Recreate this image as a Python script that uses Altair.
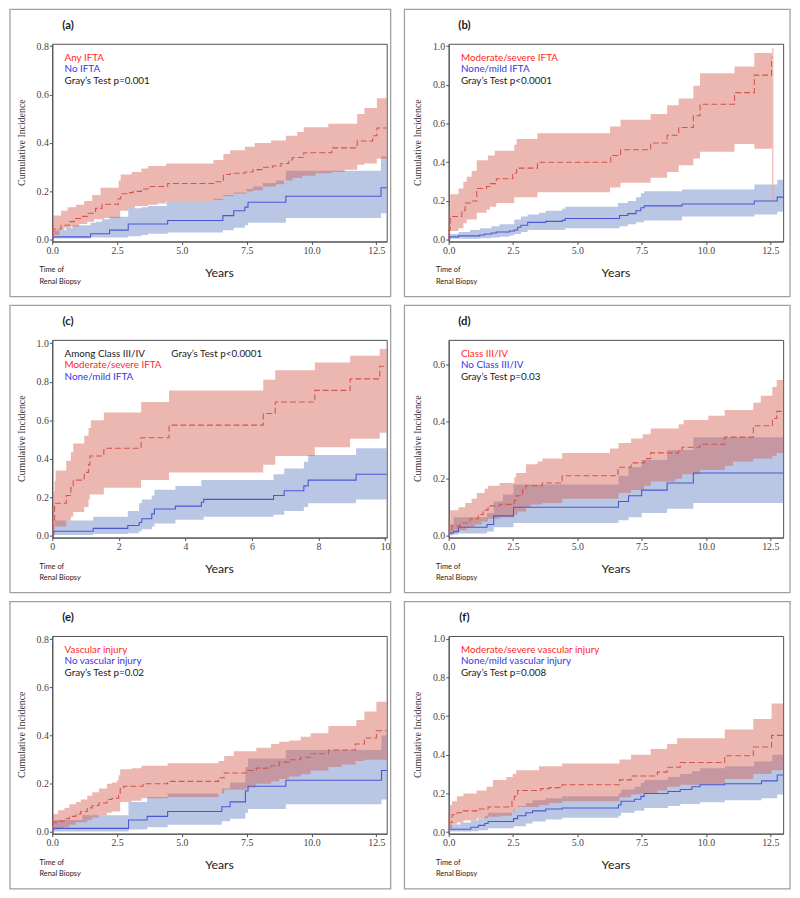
import altair as alt
import pandas as pd

# ---------------- data (time in years, cumulative incidence) ----------------
# Panel (a): Any IFTA (red) vs No IFTA (blue)
A_RED_EST = [(0, 0), (0.03, 0.045), (0.34, 0.06), (0.66, 0.075), (0.85, 0.088), (1.1, 0.097), (1.35, 0.11), (1.67, 0.13), (1.92, 0.147), (2.55, 0.17), (2.64, 0.19), (2.87, 0.195), (3.12, 0.2), (3.44, 0.21), (3.69, 0.22), (4.45, 0.233), (6.29, 0.24), (6.54, 0.245), (6.6, 0.27), (6.86, 0.275), (7.43, 0.28), (7.74, 0.29), (8.12, 0.3), (8.5, 0.305), (8.82, 0.315), (9.13, 0.33), (9.26, 0.34), (9.7, 0.36), (10.78, 0.38), (11.76, 0.408), (12.36, 0.43), (12.52, 0.462)]
A_RED_HI = [(0, 0.05), (0.02, 0.1), (0.34, 0.12), (0.59, 0.135), (0.91, 0.145), (1.23, 0.16), (1.54, 0.185), (1.86, 0.215), (2.56, 0.245), (2.64, 0.27), (3.06, 0.28), (3.44, 0.295), (3.69, 0.305), (4.39, 0.315), (6.22, 0.33), (6.6, 0.355), (6.86, 0.37), (7.43, 0.385), (7.81, 0.4), (8.44, 0.41), (9.01, 0.43), (9.45, 0.445), (9.7, 0.465), (10.65, 0.48), (11.76, 0.52), (12.04, 0.545), (12.52, 0.585)]
A_RED_LO = [(0, 0), (0.02, 0.02), (0.28, 0.04), (0.47, 0.05), (0.72, 0.055), (1.04, 0.065), (1.35, 0.075), (1.61, 0.085), (1.99, 0.09), (2.62, 0.12), (2.93, 0.13), (3.19, 0.14), (3.69, 0.145), (4.07, 0.15), (4.39, 0.16), (6.22, 0.165), (6.6, 0.18), (7.0, 0.19), (7.49, 0.2), (7.74, 0.205), (8.12, 0.22), (8.63, 0.23), (8.94, 0.245), (9.26, 0.255), (9.64, 0.265), (10.15, 0.275), (10.78, 0.28), (11.28, 0.29), (11.76, 0.31), (12.04, 0.315), (12.52, 0.335)]
A_BLUE_EST = [(0, 0), (0.03, 0.012), (1.48, 0.025), (2.21, 0.04), (2.93, 0.065), (4.45, 0.08), (6.58, 0.1), (7.0, 0.12), (7.43, 0.135), (7.55, 0.155), (9.01, 0.18), (12.68, 0.215)]
A_BLUE_HI = [(0, 0.02), (0.03, 0.04), (0.53, 0.05), (0.78, 0.06), (1.48, 0.07), (1.67, 0.075), (1.92, 0.085), (2.21, 0.095), (2.93, 0.13), (3.44, 0.135), (3.69, 0.14), (4.41, 0.16), (6.22, 0.17), (6.6, 0.185), (7.0, 0.195), (7.49, 0.21), (7.74, 0.22), (8.12, 0.235), (8.63, 0.245), (9.01, 0.285), (12.68, 0.345)]
A_BLUE_LO = [(0, 0), (0.03, 0.005), (1.48, 0.01), (2.93, 0.015), (3.44, 0.02), (3.69, 0.025), (4.45, 0.03), (6.58, 0.04), (7.0, 0.05), (7.43, 0.06), (7.55, 0.07), (9.01, 0.09), (12.68, 0.11)]

# Panel (b): Moderate/severe IFTA vs None/mild IFTA
B_RED_EST = [(0, 0), (0.01, 0.05), (0.06, 0.12), (0.51, 0.15), (0.64, 0.19), (0.89, 0.2), (1.09, 0.265), (1.47, 0.275), (1.6, 0.29), (1.85, 0.315), (2.49, 0.345), (2.64, 0.37), (3.45, 0.4), (6.3, 0.435), (6.68, 0.465), (7.85, 0.5), (8.49, 0.54), (8.94, 0.58), (9.51, 0.64), (9.77, 0.70), (11.11, 0.76), (11.88, 0.85), (12.55, 0.94)]
B_RED_HI = [(0, 0.08), (0.01, 0.17), (0.06, 0.235), (0.38, 0.265), (0.57, 0.3), (0.7, 0.325), (0.89, 0.355), (1.09, 0.41), (1.53, 0.435), (1.79, 0.46), (2.55, 0.49), (2.64, 0.52), (3.45, 0.55), (6.27, 0.585), (6.68, 0.62), (7.85, 0.65), (8.49, 0.695), (8.94, 0.73), (9.51, 0.795), (9.77, 0.86), (11.11, 0.895), (11.88, 0.965)]
B_RED_LO = [(0, 0), (0.01, 0.03), (0.06, 0.045), (0.38, 0.06), (0.57, 0.085), (0.7, 0.105), (1.09, 0.14), (1.47, 0.155), (1.6, 0.17), (1.85, 0.19), (2.55, 0.22), (3.45, 0.245), (6.27, 0.27), (6.68, 0.295), (7.85, 0.32), (8.49, 0.35), (8.94, 0.385), (9.51, 0.42), (9.77, 0.455), (11.11, 0.495), (11.88, 0.47)]
B_RED_LAST_CI = {"t": [12.6], "lo": [0.21], "hi": [0.99]}
B_BLUE_EST = [(0, 0), (0.04, 0.015), (0.38, 0.02), (1.21, 0.025), (1.4, 0.03), (1.66, 0.035), (1.85, 0.04), (2.36, 0.045), (2.55, 0.05), (2.68, 0.065), (2.81, 0.075), (3.07, 0.09), (3.77, 0.095), (4.41, 0.1), (4.53, 0.11), (6.64, 0.125), (6.96, 0.135), (7.28, 0.15), (7.47, 0.165), (7.6, 0.175), (9.07, 0.185), (11.88, 0.2), (12.77, 0.22)]
B_BLUE_HI = [(0, 0.02), (0.04, 0.03), (0.38, 0.04), (0.83, 0.05), (1.21, 0.06), (1.66, 0.07), (1.98, 0.08), (2.55, 0.105), (2.81, 0.12), (3.07, 0.13), (3.51, 0.14), (3.77, 0.15), (4.41, 0.16), (4.53, 0.17), (6.58, 0.19), (6.96, 0.2), (7.28, 0.22), (7.47, 0.24), (7.6, 0.25), (9.07, 0.26), (11.88, 0.285), (12.77, 0.31)]
B_BLUE_LO = [(0, 0), (0.06, 0.005), (1.21, 0.008), (1.66, 0.012), (1.98, 0.016), (2.36, 0.022), (2.55, 0.03), (2.81, 0.04), (3.07, 0.05), (4.53, 0.06), (6.64, 0.07), (6.96, 0.08), (7.28, 0.09), (7.6, 0.1), (9.07, 0.12), (11.88, 0.13), (12.77, 0.145)]

# Panel (c): among Class III/IV
C_RED_EST = [(0, 0), (0.02, 0.08), (0.07, 0.17), (0.42, 0.21), (0.56, 0.25), (0.63, 0.29), (0.96, 0.33), (1.09, 0.37), (1.13, 0.415), (1.55, 0.455), (2.67, 0.51), (3.51, 0.575), (6.34, 0.635), (6.7, 0.695), (7.89, 0.755), (8.95, 0.815), (9.84, 0.88)]
C_RED_HI = [(0, 0.03), (0.01, 0.08), (0.02, 0.17), (0.04, 0.23), (0.07, 0.285), (0.1, 0.34), (0.42, 0.39), (0.56, 0.435), (0.63, 0.48), (0.96, 0.52), (1.09, 0.56), (1.16, 0.6), (1.55, 0.64), (2.67, 0.695), (3.51, 0.755), (6.34, 0.81), (6.7, 0.86), (7.89, 0.9), (8.95, 0.935), (9.84, 0.97)]
C_RED_LO = [(0, 0), (0.02, 0.01), (0.07, 0.05), (0.42, 0.08), (0.56, 0.1), (0.63, 0.125), (0.96, 0.15), (1.09, 0.19), (1.13, 0.215), (1.55, 0.25), (2.67, 0.29), (3.51, 0.33), (6.34, 0.37), (6.7, 0.415), (7.89, 0.46), (8.95, 0.505), (9.84, 0.535)]
C_BLUE_EST = [(0, 0), (0.04, 0.025), (1.23, 0.04), (2.27, 0.055), (2.61, 0.07), (2.69, 0.09), (2.99, 0.115), (3.07, 0.14), (3.7, 0.155), (4.48, 0.175), (4.55, 0.19), (6.65, 0.21), (6.97, 0.235), (7.56, 0.26), (7.69, 0.29), (9.13, 0.32)]
C_BLUE_HI = [(0, 0.05), (0.07, 0.08), (1.23, 0.1), (2.27, 0.13), (2.61, 0.17), (2.69, 0.19), (2.99, 0.21), (3.07, 0.24), (3.7, 0.26), (4.48, 0.29), (6.65, 0.32), (6.97, 0.35), (7.56, 0.385), (7.69, 0.42), (9.13, 0.455)]
C_BLUE_LO = [(0, 0), (0.04, 0.005), (1.23, 0.01), (2.27, 0.015), (2.61, 0.025), (2.69, 0.035), (2.99, 0.05), (3.07, 0.065), (3.7, 0.085), (4.55, 0.1), (6.65, 0.11), (6.97, 0.13), (7.56, 0.15), (7.69, 0.17), (9.13, 0.19)]

# Panel (d): Class III/IV vs No Class III/IV
D_RED_EST = [(0, 0), (0.03, 0.02), (0.13, 0.035), (0.45, 0.045), (0.83, 0.06), (1.15, 0.075), (1.34, 0.09), (1.53, 0.105), (1.98, 0.11), (2.55, 0.125), (2.62, 0.14), (2.87, 0.16), (3.0, 0.175), (3.64, 0.185), (4.41, 0.21), (6.58, 0.24), (7.09, 0.255), (7.6, 0.27), (7.85, 0.29), (8.94, 0.3), (9.07, 0.31), (9.77, 0.32), (10.73, 0.345), (11.84, 0.385), (12.58, 0.41), (12.75, 0.435)]
D_RED_HI = [(0, 0.06), (0.06, 0.09), (0.38, 0.1), (0.64, 0.115), (0.89, 0.13), (1.09, 0.15), (1.4, 0.165), (1.53, 0.175), (1.98, 0.185), (2.55, 0.205), (2.62, 0.22), (3.0, 0.25), (3.45, 0.26), (3.64, 0.27), (4.41, 0.29), (6.27, 0.305), (6.6, 0.325), (7.09, 0.34), (7.54, 0.355), (7.85, 0.375), (8.94, 0.39), (9.13, 0.405), (10.09, 0.42), (10.73, 0.44), (11.84, 0.465), (12.13, 0.49), (12.58, 0.52), (12.75, 0.545)]
D_RED_LO = [(0, 0), (0.03, 0.005), (0.13, 0.015), (0.38, 0.02), (0.7, 0.03), (1.02, 0.04), (1.28, 0.05), (1.53, 0.06), (1.98, 0.065), (2.55, 0.075), (2.68, 0.085), (3.0, 0.1), (3.19, 0.11), (3.64, 0.115), (4.41, 0.13), (6.6, 0.15), (7.09, 0.16), (7.6, 0.175), (7.85, 0.19), (8.81, 0.2), (9.07, 0.215), (9.77, 0.23), (10.73, 0.245), (11.05, 0.26), (11.84, 0.27), (12.58, 0.28), (12.75, 0.29)]
D_BLUE_EST = [(0, 0), (0.03, 0.01), (0.19, 0.015), (0.38, 0.03), (1.49, 0.04), (1.75, 0.07), (2.52, 0.1), (6.6, 0.12), (6.99, 0.14), (7.5, 0.16), (8.49, 0.185), (9.51, 0.22)]
D_BLUE_HI = [(0, 0.02), (0.03, 0.04), (0.19, 0.065), (1.49, 0.08), (1.75, 0.12), (2.11, 0.145), (2.52, 0.18), (6.6, 0.21), (6.99, 0.24), (7.5, 0.265), (8.49, 0.3), (9.51, 0.345)]
D_BLUE_LO = [(0, 0), (0.03, 0.002), (0.19, 0.005), (0.38, 0.008), (1.49, 0.015), (1.75, 0.03), (2.52, 0.045), (6.6, 0.055), (6.99, 0.065), (7.5, 0.08), (8.49, 0.095), (9.51, 0.115)]

# Panel (e): Vascular injury vs No vascular injury
E_RED_EST = [(0, 0), (0.03, 0.04), (0.22, 0.045), (0.47, 0.055), (0.66, 0.065), (0.91, 0.075), (1.1, 0.085), (1.35, 0.1), (1.54, 0.11), (1.8, 0.12), (2.11, 0.135), (2.3, 0.14), (2.56, 0.155), (2.62, 0.18), (2.75, 0.19), (3.5, 0.2), (4.45, 0.21), (6.41, 0.225), (6.63, 0.245), (7.49, 0.255), (7.87, 0.265), (8.44, 0.275), (8.75, 0.29), (9.13, 0.3), (9.58, 0.31), (9.96, 0.325), (10.65, 0.34), (11.69, 0.365), (12.04, 0.39), (12.5, 0.42)]
E_RED_HI = [(0, 0.05), (0.03, 0.075), (0.22, 0.09), (0.47, 0.1), (0.66, 0.115), (0.91, 0.125), (1.1, 0.135), (1.35, 0.15), (1.54, 0.165), (1.8, 0.18), (2.11, 0.2), (2.3, 0.205), (2.49, 0.215), (2.56, 0.235), (2.62, 0.26), (3.06, 0.265), (3.44, 0.275), (4.45, 0.285), (6.41, 0.295), (6.63, 0.315), (7.0, 0.335), (7.87, 0.35), (8.44, 0.365), (8.75, 0.375), (9.13, 0.38), (9.58, 0.395), (9.96, 0.41), (10.65, 0.44), (11.73, 0.465), (12.04, 0.5), (12.5, 0.54)]
E_RED_LO = [(0, 0), (0.03, 0.01), (0.22, 0.015), (0.47, 0.02), (0.66, 0.03), (0.91, 0.04), (1.35, 0.05), (1.54, 0.06), (1.8, 0.07), (2.11, 0.08), (2.3, 0.085), (2.62, 0.125), (3.06, 0.13), (3.44, 0.14), (4.45, 0.145), (6.41, 0.16), (6.63, 0.175), (7.49, 0.185), (7.87, 0.2), (8.44, 0.21), (8.75, 0.22), (9.13, 0.23), (9.58, 0.24), (9.96, 0.255), (10.65, 0.27), (11.16, 0.28), (11.69, 0.295), (12.04, 0.3)]
E_BLUE_EST = [(0, 0), (0.03, 0.015), (2.94, 0.05), (3.66, 0.065), (4.45, 0.085), (6.54, 0.105), (6.86, 0.125), (7.45, 0.17), (7.55, 0.19), (9.01, 0.215), (12.7, 0.255)]
E_BLUE_HI = [(0, 0.03), (0.03, 0.05), (1.16, 0.07), (2.94, 0.125), (3.66, 0.145), (4.45, 0.16), (6.54, 0.18), (6.86, 0.205), (7.45, 0.27), (7.55, 0.305), (9.01, 0.34), (12.7, 0.4)]
E_BLUE_LO = [(0, 0), (0.03, 0.002), (2.94, 0.01), (3.66, 0.02), (4.45, 0.03), (6.54, 0.045), (6.86, 0.055), (7.45, 0.08), (7.55, 0.095), (9.01, 0.115), (12.7, 0.135)]

# Panel (f): Moderate/severe vs None/mild vascular injury
F_RED_EST = [(0, 0), (0.03, 0.05), (0.13, 0.09), (0.32, 0.1), (0.57, 0.11), (1.09, 0.12), (1.53, 0.13), (2.46, 0.16), (2.55, 0.185), (2.68, 0.215), (3.58, 0.225), (3.9, 0.23), (4.41, 0.245), (6.64, 0.27), (7.09, 0.29), (8.11, 0.31), (8.49, 0.335), (9.0, 0.36), (10.73, 0.395), (11.84, 0.44), (12.55, 0.5)]
F_RED_HI = [(0, 0.08), (0.03, 0.14), (0.13, 0.16), (0.32, 0.185), (0.57, 0.2), (1.09, 0.215), (1.47, 0.235), (1.72, 0.27), (2.24, 0.285), (2.49, 0.3), (2.62, 0.32), (3.51, 0.34), (4.41, 0.355), (6.64, 0.375), (7.09, 0.4), (7.85, 0.43), (8.49, 0.455), (8.88, 0.485), (10.73, 0.53), (11.84, 0.585), (12.55, 0.665)]
F_RED_LO = [(0, 0), (0.03, 0.02), (0.13, 0.04), (0.32, 0.05), (0.57, 0.06), (1.09, 0.07), (1.53, 0.08), (1.98, 0.085), (2.46, 0.1), (2.55, 0.12), (2.68, 0.13), (3.51, 0.14), (3.9, 0.15), (4.41, 0.16), (6.64, 0.18), (7.09, 0.195), (7.47, 0.2), (8.11, 0.215), (8.49, 0.235), (9.0, 0.245), (10.73, 0.275), (11.84, 0.3), (12.55, 0.32)]
F_BLUE_EST = [(0, 0), (0.03, 0.015), (0.86, 0.025), (1.15, 0.035), (1.4, 0.045), (1.53, 0.055), (2.52, 0.07), (2.68, 0.085), (3.0, 0.1), (3.26, 0.11), (3.77, 0.12), (4.41, 0.125), (6.6, 0.14), (6.7, 0.16), (7.22, 0.17), (7.47, 0.185), (7.6, 0.2), (8.52, 0.21), (9.0, 0.22), (9.45, 0.235), (9.77, 0.245), (10.73, 0.25), (12.16, 0.265), (12.77, 0.295)]
F_BLUE_HI = [(0, 0.03), (0.03, 0.04), (0.45, 0.05), (0.86, 0.06), (1.15, 0.07), (1.4, 0.085), (1.53, 0.1), (2.52, 0.12), (2.68, 0.135), (3.0, 0.15), (3.26, 0.165), (3.77, 0.175), (4.41, 0.185), (6.6, 0.2), (6.7, 0.22), (7.22, 0.235), (7.47, 0.255), (7.6, 0.27), (8.52, 0.285), (9.0, 0.3), (9.45, 0.315), (9.77, 0.33), (10.73, 0.34), (11.88, 0.365), (12.58, 0.4)]
F_BLUE_LO = [(0, 0), (0.03, 0.003), (0.86, 0.005), (1.15, 0.01), (1.53, 0.02), (2.52, 0.03), (3.0, 0.045), (3.26, 0.055), (3.77, 0.065), (4.41, 0.075), (6.6, 0.085), (6.7, 0.1), (7.22, 0.11), (7.6, 0.125), (8.52, 0.135), (9.0, 0.145), (9.77, 0.155), (10.73, 0.165), (12.16, 0.175), (12.77, 0.195)]

# Text
PANEL_LABELS = ["(a)", "(b)", "(c)", "(d)", "(e)", "(f)"]
LEGENDS = {
    "a": [("Any IFTA", "red"), ("No IFTA", "blue"), ("Gray\u2019s Test p=0.001", "black")],
    "b": [("Moderate/severe IFTA", "red"), ("None/mild IFTA", "blue"), ("Gray\u2019s Test p<0.0001", "black")],
    "c": [("Among Class III/IV", "black"), ("Moderate/severe IFTA", "red"), ("None/mild IFTA", "blue")],
    "d": [("Class III/IV", "red"), ("No Class III/IV", "blue"), ("Gray\u2019s Test p=0.03", "black")],
    "e": [("Vascular injury", "red"), ("No vascular injury", "blue"), ("Gray\u2019s Test p=0.02", "black")],
    "f": [("Moderate/severe vascular injury", "red"), ("None/mild vascular injury", "blue"), ("Gray\u2019s Test p=0.008", "black")],
}
C_EXTRA_TEXT = "Gray\u2019s Test p<0.0001"
X_TITLE = "Years"
Y_TITLE = "Cumulative Incidence"
ORIGIN_1 = "Time of"
ORIGIN_2 = "Renal Biopsy"

X_TICKS_13 = [0, 2.5, 5, 7.5, 10, 12.5]
X_TICKS_10 = [0, 2, 4, 6, 8, 10]
Y_TICKS_08 = [0, 0.2, 0.4, 0.6, 0.8]
Y_TICKS_10 = [0, 0.2, 0.4, 0.6, 0.8, 1.0]
Y_TICKS_06 = [0, 0.2, 0.4, 0.6]

# ---------------- styling ----------------
RED_FILL = "#D5604F"
BLUE_FILL = "#748DC9"
RED_LINE = "#D4544F"
BLUE_LINE = "#4B58D6"
TEXT_COL = {"red": "#FF1F1F", "blue": "#3535E8", "black": "#1A1A1A"}
W, H = 340, 201
SANS = "Lato"
SERIF = "Liberation Serif"
ONE = pd.DataFrame({"k": [0]})
BOX_Y = (-35, 257)


def value_at(pts, t):
    v = pts[0][1]
    for pt, pv in pts:
        if pt <= t + 1e-9:
            v = pv
        else:
            break
    return v


def line_df(pts, end):
    rows = [{"t": t, "v": v} for t, v in pts if t < end]
    rows.append({"t": end, "v": value_at(pts, end)})
    return pd.DataFrame(rows)


def band_df(lo, hi, end):
    times = sorted(set([t for t, _ in lo] + [t for t, _ in hi]))
    times = [t for t in times if t < end] + [end]
    return pd.DataFrame([{"t": t, "lo": value_at(lo, t), "hi": value_at(hi, t)} for t in times])


def txt(s, x, y, color="#1A1A1A", size=9.5, font=SANS, align="left", weight="normal", angle=0):
    kw = dict(text=s, align=align, baseline="middle", font=font, fontSize=size,
              color=color, fontWeight=weight)
    if angle:
        kw["angle"] = angle
    return alt.Chart(ONE).mark_text(**kw).encode(x=alt.value(x), y=alt.value(y))


def panel(idx, key, red, blue, red_end, blue_end, xdom, ydom, xticks, yticks, xfmt,
          box_x, extra=None):
    xs = alt.Scale(domain=xdom, nice=False, zero=False)
    ys = alt.Scale(domain=ydom, nice=False, zero=False)
    xaxis = alt.Axis(values=xticks, format=xfmt, title=None, grid=False, labelFlush=False)
    yaxis = alt.Axis(values=yticks, format=".1f", title=None, grid=False)
    X = alt.X("t:Q", scale=xs, axis=xaxis)

    def Y(f):
        return alt.Y(f + ":Q", scale=ys, axis=yaxis)

    r_est, r_lo, r_hi = red
    b_est, b_lo, b_hi = blue
    layers = [
        alt.Chart(band_df(b_lo, b_hi, blue_end)).mark_area(
            interpolate="step-after", color=BLUE_FILL, opacity=0.5).encode(
            x=X, y=Y("lo"), y2=alt.Y2("hi:Q")),
        alt.Chart(band_df(r_lo, r_hi, red_end)).mark_area(
            interpolate="step-after", color=RED_FILL, opacity=0.45).encode(
            x=X, y=Y("lo"), y2=alt.Y2("hi:Q")),
    ]
    if extra is not None:
        layers.append(alt.Chart(pd.DataFrame(extra)).mark_rule(
            color="#EDA79C", strokeWidth=1).encode(x=X, y=Y("lo"), y2=alt.Y2("hi:Q")))
    layers += [
        alt.Chart(line_df(b_est, blue_end)).mark_line(
            interpolate="step-after", color=BLUE_LINE, strokeWidth=1.1).encode(x=X, y=Y("v")),
        alt.Chart(line_df(r_est, red_end)).mark_line(
            interpolate="step-after", color=RED_LINE, strokeWidth=1.1,
            strokeDash=[6, 3]).encode(x=X, y=Y("v")),
    ]
    for i, (s, c) in enumerate(LEGENDS[key]):
        layers.append(txt(s, 12.5, 14 + 11.7 * i, color=TEXT_COL[c], size=10))
    if key == "c":
        layers.append(txt(C_EXTRA_TEXT, 121, 14, color=TEXT_COL["black"], size=10))
    layers += [
        txt(PANEL_LABELS[idx], 16, -18.5, size=11.5, weight="bold", align="center"),
        txt(Y_TITLE, -31, H / 2, color="#333333", size=10, font=SERIF, align="center", angle=270),
        txt(X_TITLE, W / 2, H + 32, size=12.5, align="center"),
        txt(ORIGIN_1, -13, H + 29.5, size=7.5),
        txt(ORIGIN_2, -13, H + 41, size=7.5),
        alt.Chart(ONE).mark_rect(fillOpacity=0, stroke="#A0A0A0", strokeWidth=1.3).encode(
            x=alt.value(box_x[0]), x2=alt.value(box_x[1]),
            y=alt.value(BOX_Y[0]), y2=alt.value(BOX_Y[1])),
    ]
    return alt.layer(*layers).properties(width=W, height=H)


LEFT_BOX = (-43, 344)
RIGHT_BOX = (-45, 347)

pa = panel(0, "a", (A_RED_EST, A_RED_LO, A_RED_HI), (A_BLUE_EST, A_BLUE_LO, A_BLUE_HI),
           12.9, 12.9, [0, 12.9], [-0.007, 0.81], X_TICKS_13, Y_TICKS_08, ".1f", LEFT_BOX)
pb = panel(1, "b", (B_RED_EST, B_RED_LO, B_RED_HI), (B_BLUE_EST, B_BLUE_LO, B_BLUE_HI),
           12.58, 13.0, [0, 13.0], [-0.009, 1.012], X_TICKS_13, Y_TICKS_10, ".1f", RIGHT_BOX,
           extra=B_RED_LAST_CI)
pc = panel(2, "c", (C_RED_EST, C_RED_LO, C_RED_HI), (C_BLUE_EST, C_BLUE_LO, C_BLUE_HI),
           10.05, 10.05, [0, 10.05], [-0.008, 1.017], X_TICKS_10, Y_TICKS_10, "d", LEFT_BOX)
pd_ = panel(3, "d", (D_RED_EST, D_RED_LO, D_RED_HI), (D_BLUE_EST, D_BLUE_LO, D_BLUE_HI),
            13.0, 13.0, [0, 13.0], [-0.006, 0.685], X_TICKS_13, Y_TICKS_06, ".1f", RIGHT_BOX)
pe = panel(4, "e", (E_RED_EST, E_RED_LO, E_RED_HI), (E_BLUE_EST, E_BLUE_LO, E_BLUE_HI),
           12.9, 12.9, [0, 12.9], [-0.007, 0.8135], X_TICKS_13, Y_TICKS_08, ".1f", LEFT_BOX)
pf = panel(5, "f", (F_RED_EST, F_RED_LO, F_RED_HI), (F_BLUE_EST, F_BLUE_LO, F_BLUE_HI),
           13.0, 13.0, [0, 13.0], [-0.008, 1.014], X_TICKS_13, Y_TICKS_10, ".1f", RIGHT_BOX)

chart = alt.vconcat(
    alt.hconcat(pa, pb, spacing=10),
    alt.hconcat(pc, pd_, spacing=10),
    alt.hconcat(pe, pf, spacing=10),
    spacing=5,
).properties(
    padding={"top": -8, "left": 0, "right": 0, "bottom": 0}, background="white"
).configure_view(
    stroke="#505050", strokeWidth=1
).configure_axis(
    domainColor="#505050", tickColor="#505050", tickSize=3, labelFont=SERIF,
    labelFontSize=10, labelColor="#444444", labelPadding=1, domainWidth=1
)

chart.save("out.html", embed_options={"renderer": "svg", "actions": False})
